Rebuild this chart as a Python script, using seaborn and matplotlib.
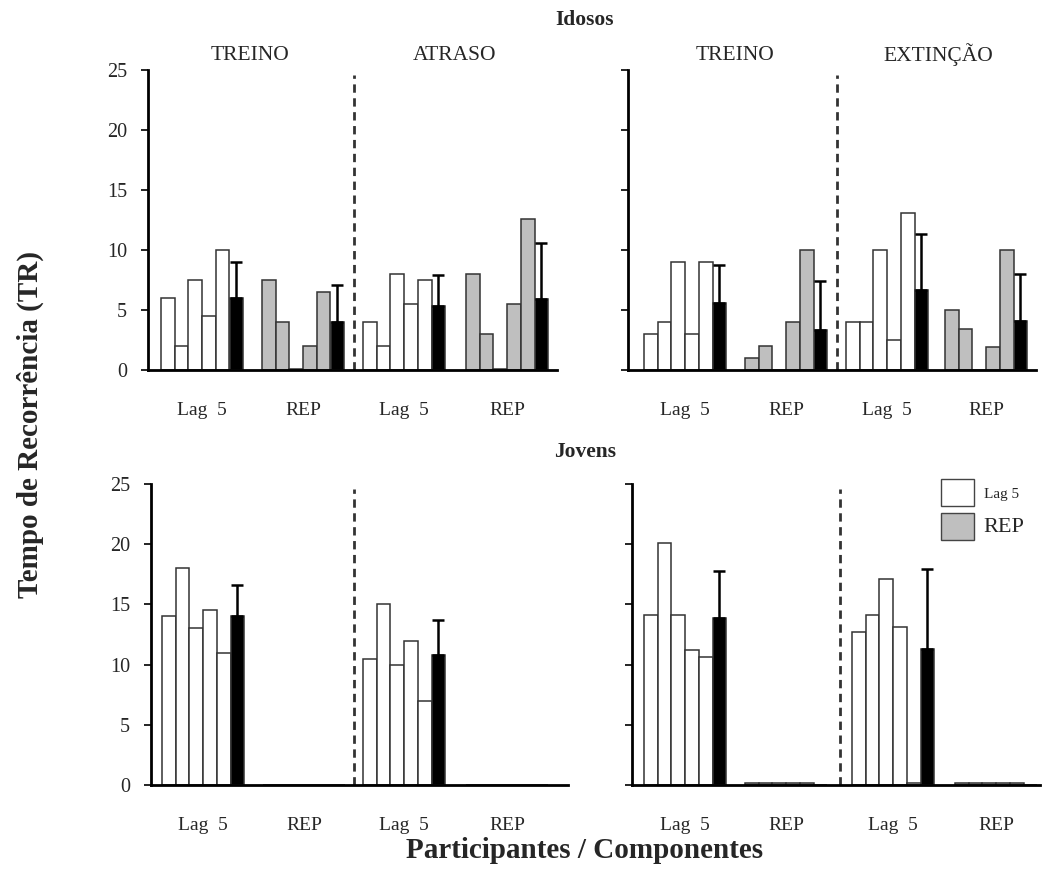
import numpy as np
import pandas as pd
import matplotlib
matplotlib.use("Agg")
import matplotlib.pyplot as plt
from matplotlib.patches import Patch
import seaborn as sns

# ---------------- data ----------------
row_titles = ["Idosos", "Jovens"]
phases_left = ["TREINO", "ATRASO"]
phases_right = ["TREINO", "EXTINÇÃO"]
component_labels = ["Lag  5", "REP", "Lag  5", "REP"]
legend_labels = ["Lag 5", "REP"]
y_ticks = [0, 5, 10, 15, 20, 25]
y_label = "Tempo de Recorrência (TR)"
x_label = "Participantes / Componentes"

# Idosos - left panel (TREINO / ATRASO)
idosos_treino1_lag5 = [6.0, 2.0, 7.5, 4.5, 10.0]
idosos_treino1_rep = [7.5, 4.0, 0.1, 2.0, 6.5]
idosos_atraso_lag5 = [4.0, 2.0, 8.0, 5.5, 7.5]
idosos_atraso_rep = [8.0, 3.0, 0.1, 5.5, 12.6]
idosos_left_means = [6.0, 4.0, 5.3, 5.9]
idosos_left_sd = [3.0, 3.05, 2.6, 4.7]

# Idosos - right panel (TREINO / EXTINÇÃO)
idosos_treino2_lag5 = [3.0, 4.0, 9.0, 3.0, 9.0]
idosos_treino2_rep = [1.0, 2.0, 0.0, 4.0, 10.0]
idosos_extincao_lag5 = [4.0, 4.0, 10.0, 2.5, 13.1]
idosos_extincao_rep = [5.0, 3.4, 0.0, 1.9, 10.0]
idosos_right_means = [5.55, 3.3, 6.7, 4.1]
idosos_right_sd = [3.2, 4.1, 4.6, 3.9]

# Jovens - left panel (TREINO / ATRASO)
jovens_treino1_lag5 = [14.0, 18.0, 13.0, 14.5, 11.0]
jovens_treino1_rep = [0.0, 0.0, 0.0, 0.0, 0.0]
jovens_atraso_lag5 = [10.5, 15.0, 10.0, 12.0, 7.0]
jovens_atraso_rep = [0.0, 0.0, 0.0, 0.0, 0.0]
jovens_left_means = [14.0, 0.0, 10.8, 0.0]
jovens_left_sd = [2.65, 0.0, 2.9, 0.0]

# Jovens - right panel (TREINO / EXTINÇÃO)
jovens_treino2_lag5 = [14.1, 20.1, 14.1, 11.2, 10.6]
jovens_treino2_rep = [0.15, 0.15, 0.15, 0.15, 0.15]
jovens_extincao_lag5 = [12.7, 14.1, 17.1, 13.1, 0.15]
jovens_extincao_rep = [0.15, 0.15, 0.15, 0.15, 0.15]
jovens_right_means = [13.9, 0.0, 11.3, 0.0]
jovens_right_sd = [3.9, 0.0, 6.6, 0.0]

# ---------------- style ----------------
sns.set_theme(style="white")
plt.rcParams["font.family"] = ["Liberation Serif", "DejaVu Serif"]

W, H = 1043, 890
PX_W = 13.7  # bar width in pixels
PALETTE = {"lag": "#ffffff", "rep": "#bfbfbf", "mean": "#000000"}


def fx(px):
    return px / W


def fy(py):
    return 1 - py / H


panels = [
    dict(left=148, right=557, top=70, base=370, starts=[161, 262, 363, 466],
         groups=[idosos_treino1_lag5, idosos_treino1_rep, idosos_atraso_lag5, idosos_atraso_rep],
         means=idosos_left_means, sds=idosos_left_sd, labels=True),
    dict(left=628, right=1036, top=70, base=370, starts=[644, 745, 846, 945],
         groups=[idosos_treino2_lag5, idosos_treino2_rep, idosos_extincao_lag5, idosos_extincao_rep],
         means=idosos_right_means, sds=idosos_right_sd, labels=False),
    dict(left=151, right=568, top=484, base=785, starts=[162, 263, 363, 466],
         groups=[jovens_treino1_lag5, jovens_treino1_rep, jovens_atraso_lag5, jovens_atraso_rep],
         means=jovens_left_means, sds=jovens_left_sd, labels=True),
    dict(left=632, right=1040, top=484, base=785, starts=[644, 745, 852, 955],
         groups=[jovens_treino2_lag5, jovens_treino2_rep, jovens_extincao_lag5, jovens_extincao_rep],
         means=jovens_right_means, sds=jovens_right_sd, labels=False),
]

fig = plt.figure(figsize=(W / 100, H / 100), dpi=100)

for p in panels:
    ax = fig.add_axes([fx(p["left"]), fy(p["base"]),
                       fx(p["right"]) - fx(p["left"]), (p["base"] - p["top"]) / H])
    rows = []
    starts_u = [(s - p["left"]) / PX_W for s in p["starts"]]
    for g, vals in enumerate(p["groups"]):
        kind = "lag" if g % 2 == 0 else "rep"
        for i, v in enumerate(vals):
            rows.append(dict(pos=starts_u[g] + 0.5 + i, value=v, kind=kind))
        rows.append(dict(pos=starts_u[g] + 5.5, value=p["means"][g], kind="mean"))
    df = pd.DataFrame(rows)
    sns.barplot(data=df, x="pos", y="value", hue="kind", palette=PALETTE,
                native_scale=True, width=1.0, dodge=False, errorbar=None,
                saturation=1, legend=False, edgecolor="#333333", linewidth=1.1, ax=ax)
    # error bars (upper only)
    for g in range(4):
        if p["sds"][g] > 0:
            ax.errorbar(starts_u[g] + 5.5, p["means"][g], yerr=[[0], [p["sds"][g]]],
                        fmt="none", ecolor="black", elinewidth=1.8, capsize=4.5,
                        capthick=1.8, zorder=5)
    # dashed phase separator
    xsep = (starts_u[1] + 6 + starts_u[2]) / 2
    ax.axvline(xsep, ymin=0, ymax=0.985, color="#333333", lw=2, ls=(0, (3, 2)))

    ax.set_xlim(0, (p["right"] - p["left"]) / PX_W)
    ax.set_ylim(0, 25)
    ax.set_xlabel("")
    ax.set_ylabel("")
    ax.set_xticks([s + 3 for s in starts_u])
    ax.set_xticklabels(component_labels, fontsize=14)
    ax.set_yticks(y_ticks)
    ax.tick_params(axis="x", length=0, pad=23)
    ax.tick_params(axis="y", length=5, width=1.2, direction="out", left=True,
                   labelleft=p["labels"], labelsize=14.5, pad=10, color="black")
    for s in ["top", "right"]:
        ax.spines[s].set_visible(False)
    for s in ["left", "bottom"]:
        ax.spines[s].set_color("black")
        ax.spines[s].set_linewidth(2)
    ax.set_facecolor("none")

# titles and labels
fig.text(fx(585), fy(20), row_titles[0], ha="center", va="center", fontsize=15.5, fontweight="bold")
fig.text(fx(585), fy(452), row_titles[1], ha="center", va="center", fontsize=15.5, fontweight="bold")
for x, t in zip([250, 455], phases_left):
    fig.text(fx(x), fy(55), t, ha="center", va="center", fontsize=15.5)
for x, t in zip([735, 938], phases_right):
    fig.text(fx(x), fy(55), t, ha="center", va="center", fontsize=15.5)
fig.text(fx(30), fy(424), y_label, ha="center", va="center", rotation=90,
         fontsize=21, fontweight="bold")
fig.text(fx(585), fy(850), x_label, ha="center", va="center", fontsize=21, fontweight="bold")

# legend
handles = [Patch(facecolor=PALETTE["lag"], edgecolor="#444444", linewidth=1),
           Patch(facecolor=PALETTE["rep"], edgecolor="#444444", linewidth=1)]
leg = fig.legend(handles=handles, labels=legend_labels, loc="upper left",
                 bbox_to_anchor=(fx(941), fy(479)), bbox_transform=fig.transFigure,
                 frameon=False, fontsize=12, handlelength=2.0, handleheight=2.1,
                 labelspacing=0.45, handletextpad=0.55, borderpad=0, borderaxespad=0)
leg.get_texts()[0].set_fontsize(11)
leg.get_texts()[1].set_fontsize(16)

fig.savefig("out.png", dpi=100, facecolor="white")
